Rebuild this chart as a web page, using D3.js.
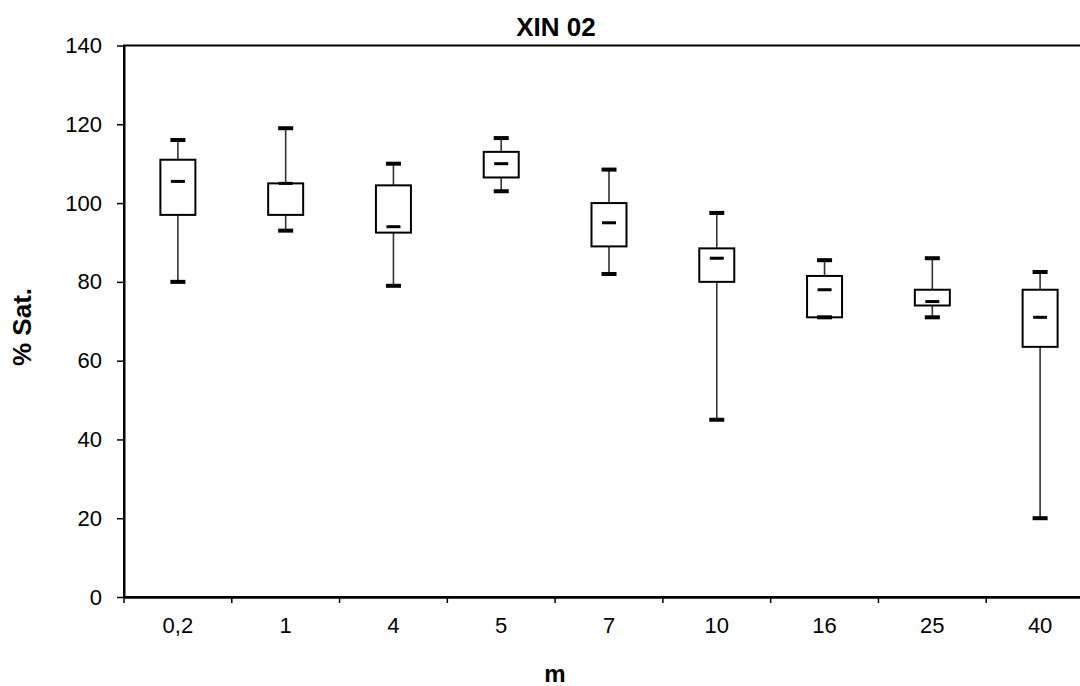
<!DOCTYPE html>
<html>
<head>
<meta charset="utf-8">
<script src="https://cdn.jsdelivr.net/npm/d3@7"></script>
<style>
  html, body { margin: 0; padding: 0; background: #fff; }
  svg { display: block; }
  text { font-family: "Liberation Sans", Arial, sans-serif; fill: #000; }
</style>
</head>
<body>
<svg id="chart" width="1080" height="686"></svg>
<script>
// Depth categories (m)
const categories = ["0,2", "1", "4", "5", "7", "10", "16", "25", "40"];
// Box statistics per depth (% saturation)
const whiskerLow  = [80, 93, 79, 103, 82, 45, 71, 71, 20];
const q1          = [97, 97, 92.5, 106.5, 89, 80, 71, 74, 63.5];
const median      = [105.5, 105, 94, 110, 95, 86, 78, 75, 71];
const q3          = [111, 105, 104.5, 113, 100, 88.5, 81.5, 78, 78];
const whiskerHigh = [116, 119, 110, 116.5, 108.5, 97.5, 85.5, 86, 82.5];
const yTicks = [0, 20, 40, 60, 80, 100, 120, 140];

const rows = categories.map((c, i) => ({
  cat: c, lo: whiskerLow[i], q1: q1[i], med: median[i], q3: q3[i], hi: whiskerHigh[i]
}));

const svg = d3.select("#chart");
const plot = { left: 124, right: 1094, top: 45.5, bottom: 597 };

const x = d3.scaleBand().domain(categories).range([plot.left, plot.right]).padding(0);
const y = d3.scaleLinear().domain([0, 140]).range([plot.bottom, plot.top]);

// Plot frame (right side falls past the page edge)
svg.append("rect")
  .attr("x", plot.left).attr("y", plot.top)
  .attr("width", plot.right - plot.left).attr("height", plot.bottom - plot.top)
  .attr("fill", "none").attr("stroke", "#000").attr("stroke-width", 2);

// Y axis
const yAxis = svg.append("g")
  .attr("transform", `translate(${plot.left},0)`)
  .call(d3.axisLeft(y).tickValues(yTicks).tickSize(7).tickSizeOuter(0).tickPadding(15));
yAxis.select(".domain").attr("stroke", "#000").attr("stroke-width", 2);
yAxis.selectAll(".tick line").attr("stroke", "#000").attr("stroke-width", 1.5);
yAxis.selectAll(".tick text")
  .style("font-family", "'Liberation Sans', Arial, sans-serif")
  .style("font-size", "22px").attr("fill", "#000");

// X axis: labels centred on bands, ticks at band boundaries
const xAxis = svg.append("g")
  .attr("transform", `translate(0,${plot.bottom})`)
  .call(d3.axisBottom(x).tickSize(0).tickSizeOuter(0).tickPadding(20));
xAxis.select(".domain").attr("stroke", "#000").attr("stroke-width", 2.5);
xAxis.selectAll(".tick text")
  .style("font-family", "'Liberation Sans', Arial, sans-serif")
  .style("font-size", "22px").attr("fill", "#000");
svg.append("g").selectAll("line")
  .data(categories.concat([null]))
  .join("line")
  .attr("x1", (d, i) => i < categories.length ? x(d) : plot.right)
  .attr("x2", (d, i) => i < categories.length ? x(d) : plot.right)
  .attr("y1", plot.bottom).attr("y2", plot.bottom + 6)
  .attr("stroke", "#000").attr("stroke-width", 1.5);

// Box plots
const boxW = 35, capW = 15, capH = 4, medW = 14, medH = 3;
const g = svg.append("g").selectAll("g").data(rows).join("g")
  .attr("transform", d => `translate(${x(d.cat) + x.bandwidth() / 2},0)`);

// whiskers
g.append("line")
  .attr("x1", 0).attr("x2", 0)
  .attr("y1", d => y(d.hi)).attr("y2", d => y(d.q3))
  .attr("stroke", "#333").attr("stroke-width", 1.6);
g.append("line")
  .attr("x1", 0).attr("x2", 0)
  .attr("y1", d => y(d.q1)).attr("y2", d => y(d.lo))
  .attr("stroke", "#333").attr("stroke-width", 1.6);

// boxes
g.append("rect")
  .attr("x", -boxW / 2).attr("width", boxW)
  .attr("y", d => y(d.q3)).attr("height", d => y(d.q1) - y(d.q3))
  .attr("fill", "#fff").attr("stroke", "#000").attr("stroke-width", 2);

// caps
g.append("rect")
  .attr("x", -capW / 2).attr("width", capW)
  .attr("y", d => y(d.hi) - capH / 2).attr("height", capH).attr("fill", "#000");
g.append("rect")
  .attr("x", -capW / 2).attr("width", capW)
  .attr("y", d => y(d.lo) - capH / 2).attr("height", capH).attr("fill", "#000");

// medians
g.append("rect")
  .attr("x", -medW / 2).attr("width", medW)
  .attr("y", d => y(d.med) - medH / 2).attr("height", medH).attr("fill", "#000");

// Titles
svg.append("text")
  .attr("x", 556).attr("y", 36)
  .attr("text-anchor", "middle")
  .style("font-size", "26px").style("font-weight", "bold")
  .text("XIN 02");

svg.append("text")
  .attr("transform", "translate(31,327) rotate(-90)")
  .attr("text-anchor", "middle")
  .style("font-size", "26px").style("font-weight", "bold")
  .text("% Sat.");

svg.append("text")
  .attr("x", 555).attr("y", 682)
  .attr("text-anchor", "middle")
  .style("font-size", "24px").style("font-weight", "bold")
  .text("m");
</script>
</body>
</html>
